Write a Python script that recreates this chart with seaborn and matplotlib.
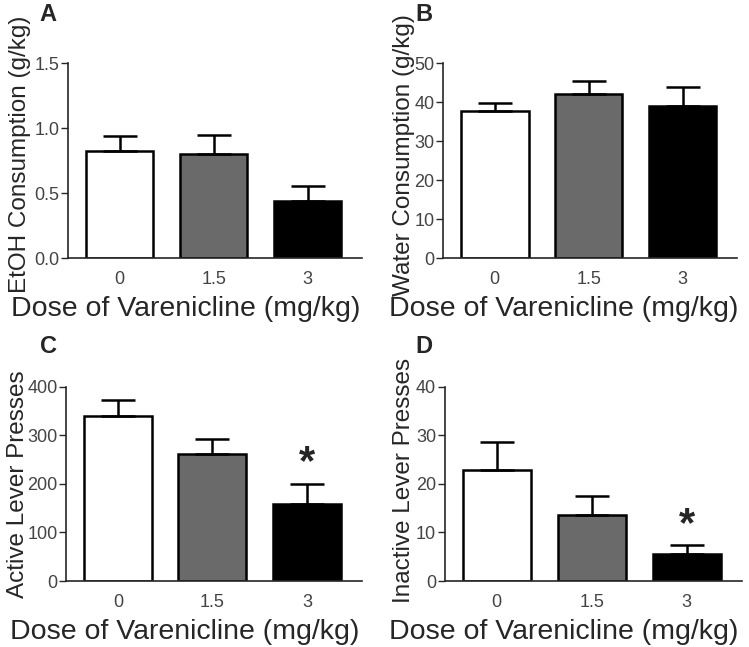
import numpy as np
import pandas as pd
import matplotlib
matplotlib.use("Agg")
import matplotlib.pyplot as plt
import seaborn as sns

# dose groups
doses = ["0", "1.5", "3"]
bar_colors = ["#ffffff", "#6a6a6a", "#000000"]

# panel A - EtOH consumption (g/kg)
etoh_mean = [0.82, 0.80, 0.44]
etoh_sem = [0.115, 0.15, 0.115]

# panel B - water consumption (g/kg)
water_mean = [37.8, 42.0, 39.1]
water_sem = [2.0, 3.3, 4.8]

# panel C - active lever presses
active_mean = [341, 261, 159]
active_sem = [32, 31, 41]

# panel D - inactive lever presses
inactive_mean = [22.9, 13.7, 5.6]
inactive_sem = [5.7, 3.9, 1.8]

# significance markers (index of dose group)
active_sig = [2]
inactive_sig = [2]

panels = [
    ("A", "EtOH Consumption (g/kg)", etoh_mean, etoh_sem, [0, 0.5, 1.0, 1.5], "{:.1f}", []),
    ("B", "Water Consumption (g/kg)", water_mean, water_sem, [0, 10, 20, 30, 40, 50], "{:d}", []),
    ("C", "Active Lever Presses", active_mean, active_sem, [0, 100, 200, 300, 400], "{:d}", active_sig),
    ("D", "Inactive Lever Presses", inactive_mean, inactive_sem, [0, 10, 20, 30, 40], "{:d}", inactive_sig),
]

sns.set_style("ticks")
plt.rcParams['font.family'] = ['Liberation Sans', 'DejaVu Sans']

fig = plt.figure(figsize=(7.49, 6.47), dpi=100)

# axes rectangles in figure fractions [left, bottom, width, height]
rects = [
    [0.0908, 0.6012, 0.3925, 0.3014],
    [0.5915, 0.6012, 0.3925, 0.3014],
    [0.0880, 0.1020, 0.3950, 0.3000],
    [0.5935, 0.1020, 0.3970, 0.3000],
]
letter_pos = [(0.053, 0.978), (0.555, 0.978), (0.053, 0.465), (0.555, 0.465)]
ylabel_xy = [(-0.125, 0.53), (-0.097, 0.53), (-0.125, 0.50), (-0.10, 0.52)]
xlabel_x = [0.40, 0.41, 0.40, 0.40]

for (letter, ylab, means, sems, ticks, fmt, sig), rect, lp, yxy, xx in zip(
        panels, rects, letter_pos, ylabel_xy, xlabel_x):
    ax = fig.add_axes(rect)
    df = pd.DataFrame({"dose": doses, "value": means})
    sns.barplot(data=df, x="dose", y="value", hue="dose", order=doses,
                palette=bar_colors, legend=False, errorbar=None,
                edgecolor="black", linewidth=1.8, width=0.72, ax=ax)
    xs = np.arange(len(doses))
    ax.errorbar(xs, means, yerr=[np.zeros(len(means)), sems], fmt="none",
                ecolor="black", elinewidth=1.8, capsize=12, capthick=1.8, zorder=1)
    top = ticks[-1]
    for i in sig:
        ax.text(xs[i], means[i] + sems[i] + 0.105 * top, "*", ha="center", va="center",
                fontsize=30, fontweight="bold")
    ax.set_ylim(0, top)
    ax.set_xlim(-0.55, 2.58)
    ax.set_yticks(ticks)
    ax.set_yticklabels([fmt.format(t) for t in ticks])
    ax.tick_params(axis="y", length=5, width=1, labelsize=13, labelcolor="#444444", pad=1)
    ax.tick_params(axis="x", length=0, labelsize=13, labelcolor="#444444", pad=9)
    ax.set_xlabel("Dose of Varenicline (mg/kg)", fontsize=20.5, labelpad=6)
    ax.xaxis.label.set_x(xx)
    ax.set_ylabel(ylab, fontsize=17.5)
    ax.yaxis.set_label_coords(*yxy)
    sns.despine(ax=ax)
    for s in ["left", "bottom"]:
        ax.spines[s].set_linewidth(1.2)
    fig.text(lp[0], lp[1], letter, fontsize=17, fontweight="bold", ha="left", va="center")

fig.savefig("out.png", dpi=100)
